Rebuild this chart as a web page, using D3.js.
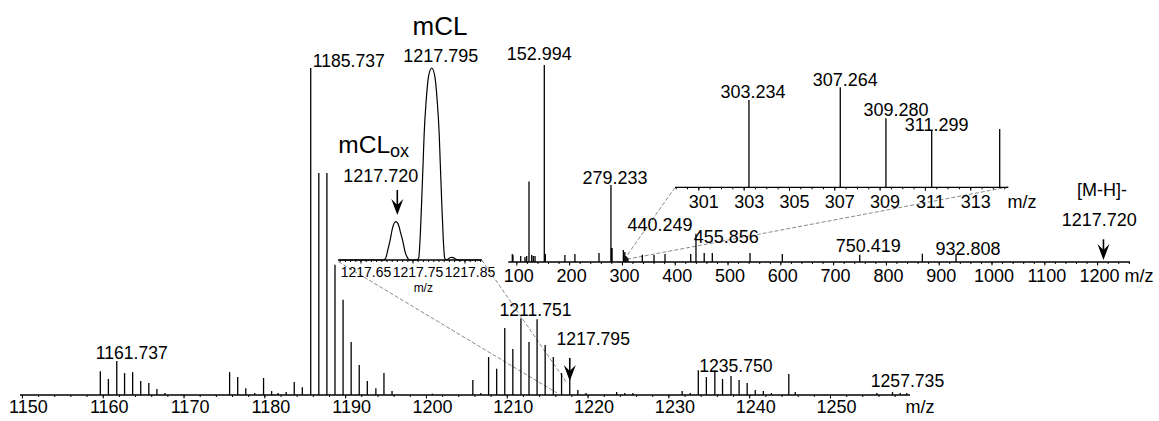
<!DOCTYPE html>
<html>
<head>
<meta charset="utf-8">
<script src="https://cdn.jsdelivr.net/npm/d3@7"></script>
<style>
  body { margin: 0; background: #fff; }
  svg text { font-family: "Liberation Sans", Arial, sans-serif; fill: #000; }
</style>
</head>
<body>
<svg id="chart" width="1159" height="421"></svg>
<script>
// ---- main MS spectrum (m/z, relative intensity %) ----
const mainTicks = d3.range(1150, 1251, 10);
const mainPeaks = [
  [1159.70, 7.3], [1160.70, 4.9], [1161.737, 10.4], [1162.70, 6.7], [1163.70, 7.0],
  [1164.70, 4.3], [1165.70, 3.7], [1166.70, 1.8], [1167.70, 0.6],
  [1175.70, 7.0], [1176.70, 5.5], [1177.70, 2.1], [1178.80, 0.6], [1179.90, 5.2],
  [1180.90, 1.2], [1181.70, 0.6], [1182.70, 0.9], [1183.70, 4.0], [1184.70, 2.4],
  [1185.737, 100], [1186.74, 67.9], [1187.74, 67.9], [1188.74, 39.8], [1189.74, 29.1],
  [1190.74, 16.2], [1191.74, 9.2], [1192.74, 4.3], [1193.80, 2.1], [1194.80, 6.7],
  [1195.80, 1.2], [1200.80, 0.4],
  [1205.80, 4.6], [1206.80, 0.6], [1207.75, 11.6], [1208.75, 8.0], [1209.75, 20.5],
  [1210.75, 14.1], [1211.751, 23.5], [1212.75, 16.2], [1213.75, 23.2], [1214.75, 15.3],
  [1215.76, 11.6], [1216.78, 6.7], [1217.795, 5.2], [1218.80, 1.5], [1219.80, 0.6],
  [1223.60, 0.9], [1224.60, 0.6], [1225.60, 0.6], [1231.70, 1.2], [1232.70, 0.6],
  [1233.70, 7.6], [1234.70, 5.5], [1235.750, 7.6], [1236.70, 4.9], [1237.75, 5.8],
  [1238.75, 4.6], [1239.75, 3.7], [1240.75, 1.5], [1241.75, 1.2], [1242.75, 0.6],
  [1244.90, 6.4], [1245.70, 0.9], [1255.80, 0.6], [1257.735, 0.9], [1258.70, 0.6], [1259.50, 0.6]
];
const mainLabels = ['1161.737', '1185.737', '1211.751', '1217.795', '1235.750', '1257.735'];

// ---- inset: high resolution profile around 1217.7 ----
const profileTicks = [1217.65, 1217.75, 1217.85];
const profilePoints = [
  [1217.6073, 0], [1217.6946, 0], [1217.6985, 1], [1217.7023, 5], [1217.7067, 10],
  [1217.7119, 17], [1217.7177, 20], [1217.7235, 18], [1217.7273, 14], [1217.7312, 10],
  [1217.7360, 4], [1217.7408, 1], [1217.7437, 0],
  [1217.7581, 0], [1217.7619, 1], [1217.7648, 12], [1217.7677, 31], [1217.7706, 52],
  [1217.7725, 66], [1217.7763, 83], [1217.7811, 96], [1217.7869, 100], [1217.7927, 96],
  [1217.7975, 83], [1217.8013, 66], [1217.8032, 52], [1217.8061, 31], [1217.8090, 12],
  [1217.8119, 1], [1217.8157, 0],
  [1217.8190, 0.6], [1217.8230, 1.3], [1217.8260, 1.4], [1217.8300, 1.0], [1217.8340, 0.4],
  [1217.8381, 0], [1217.8831, 0]
];

// ---- inset: MS/MS of 1217.720 ----
const msmsTicks = d3.range(100, 1201, 100);
const msmsPeaks = [
  [92.4, 4.1], [93.6, 3.6], [108.3, 3.0], [116.4, 2.5], [119.6, 3.0], [124.0, 40.8],
  [129.1, 3.6], [132.1, 3.0], [135.4, 3.0], [152.994, 100], [155.0, 4.1], [192.0, 3.6],
  [211.0, 4.1], [256.6, 4.6], [279.233, 39.1], [280.24, 7.1], [281.25, 7.1],
  [302.7, 6.1], [303.7, 4.0], [305.5, 5.1], [307.3, 3.0], [309.3, 2.5], [311.3, 2.0],
  [338.6, 3.7], [360.8, 3.6], [381.6, 4.1], [430.3, 4.1], [440.249, 14.4], [455.856, 4.6],
  [471.2, 4.6], [542.6, 4.6], [603.8, 4.1], [750.419, 3.7], [869.0, 4.2], [932.808, 4.1]
];
const msmsLabels = ['152.994', '279.233', '440.249', '455.856', '750.419', '932.808'];

// ---- inset: MS/MS zoom 300-314 ----
const zoomTicks = d3.range(301, 314, 2);
const zoomPeaks = [[303.234, 87.3], [307.264, 100], [309.280, 69], [311.299, 57.3], [314.30, 58.3]];
const zoomLabels = ['303.234', '307.264', '309.280', '311.299'];

const svg = d3.select('#chart');
svg.append('rect').attr('width', 1159).attr('height', 421).attr('fill', '#fff');

const xMain = d3.scaleLinear().domain([1149.76, 1259.9]).range([20, 910]);
const yMain = d3.scaleLinear().domain([0, 100]).range([395, 68]);
const xProf = d3.scaleLinear().domain([1217.6073, 1217.8831]).range([338.3, 481.7]);
const yProf = d3.scaleLinear().domain([0, 100]).range([260, 68]);
const xMsms = d3.scaleLinear().domain([84.8, 1262.3]).range([508.3, 1130]);
const yMsms = d3.scaleLinear().domain([0, 100]).range([262, 65]);
const xZoom = d3.scaleLinear().domain([299.97, 314.68]).range([675, 1008.3]);
const yZoom = d3.scaleLinear().domain([0, 100]).range([187.3, 87.3]);

function text(str, x, y, size, anchor) {
  return svg.append('text').attr('x', x).attr('y', y)
    .attr('text-anchor', anchor || 'middle')
    .style('font-size', size + 'px').text(str);
}

function axis(x, y0, ticks, minor, fmt, size, labelY, labelDx) {
  const g = svg.append('g').attr('transform', `translate(0,${y0})`);
  g.append('g')
    .call(d3.axisBottom(x).tickValues(minor).tickSize(2).tickSizeOuter(0).tickFormat(''))
    .call(a => a.select('.domain').remove());
  const ax = g.append('g')
    .call(d3.axisBottom(x).tickValues(ticks).tickSize(3.5).tickSizeOuter(0).tickFormat(fmt));
  ax.select('.domain').remove();
  ax.selectAll('text').attr('y', labelY).attr('dy', 0).attr('dx', labelDx)
    .style('font-size', size + 'px');
  g.append('line').attr('x1', x.range()[0]).attr('x2', x.range()[1])
    .attr('stroke', '#000').attr('stroke-width', 1.3);
}

function sticks(x, y, peaks) {
  svg.append('g').selectAll('line').data(peaks).enter().append('line')
    .attr('x1', d => x(d[0])).attr('x2', d => x(d[0]))
    .attr('y1', y(0)).attr('y2', d => y(d[1]))
    .attr('stroke', '#000').attr('stroke-width', 1.3);
}

function arrow(x, yTop, yTip) {
  svg.append('line').attr('x1', x).attr('x2', x).attr('y1', yTop).attr('y2', yTip - 8)
    .attr('stroke', '#000').attr('stroke-width', 1.6);
  svg.append('path')
    .attr('d', `M${x},${yTip}L${x - 6},${yTip - 16}L${x},${yTip - 10}L${x + 6},${yTip - 16}Z`)
    .attr('fill', '#000');
}

function dashed(x1, y1, x2, y2) {
  svg.append('line').attr('x1', x1).attr('y1', y1).attr('x2', x2).attr('y2', y2)
    .attr('stroke', '#8a8a8a').attr('stroke-width', 1).attr('stroke-dasharray', '4,2');
}

function peakLabels(labels, x, y, peaks, offsets, size) {
  labels.forEach(l => {
    const mz = +l;
    const p = peaks.find(d => Math.abs(d[0] - mz) < 0.01);
    const o = offsets[l];
    text(l, x(mz) + o[0], y(p[1]) - o[1], size, o[2]);
  });
}

// connectors (drawn first, under everything)
dashed(xProf.range()[0], 261.7, xMain(1216.21), 393);
dashed(xProf.range()[1], 260, xMain(1217.45), 383);
dashed(xZoom.range()[0], 187.5, xMsms(305.5), 258.5);
dashed(xZoom.range()[1], 187, xMsms(308.5), 259.3);

// main spectrum
axis(xMain, yMain(0), mainTicks, d3.range(1150, 1260, 2), d3.format('d'), 18, 18, 6);
sticks(xMain, yMain, mainPeaks);
text('m/z', 920, 413, 18);
peakLabels(mainLabels, xMain, yMain, mainPeaks, {
  '1161.737': [15, 2], '1185.737': [2, 1, 'start'], '1211.751': [14.6, 2],
  '1217.795': [23.5, 33], '1235.750': [21, -1.5], '1257.735': [15, 5]
}, 17.6);
arrow(xMain(1217.795), 358, yMain(5.2) + 3);

// profile inset
axis(xProf, yProf(0), profileTicks, d3.range(1217.61, 1217.885, 0.01), d3.format('.2f'), 14, 16.5, 5);
svg.append('path').datum(profilePoints)
  .attr('d', d3.line().x(d => xProf(d[0])).y(d => yProf(d[1])).curve(d3.curveMonotoneX))
  .attr('fill', 'none').attr('stroke', '#000').attr('stroke-width', 1.2);
text('m/z', 423.3, 292, 12);
text('mCL', 440, 35, 26);
text('1217.795', xProf(1217.7869) + 9, 62, 18);
const ox = svg.append('text').attr('x', 338.3).attr('y', 153).style('font-size', '24.5px');
ox.append('tspan').text('mCL');
ox.append('tspan').attr('dy', 4).style('font-size', '18px').text('ox');
text('1217.720', 380.8, 181.7, 18);
arrow(xProf(1217.7177) + 1.6, 190, yProf(20) - 6.5);

// MS/MS inset
axis(xMsms, yMsms(0), msmsTicks, d3.range(100, 1261, 20), d3.format('d'), 18, 20, 2);
sticks(xMsms, yMsms, msmsPeaks);
text('m/z', 1139, 282, 18);
peakLabels(msmsLabels, xMsms, yMsms, msmsPeaks, {
  '152.994': [-5, 5.5], '279.233': [4, 1], '440.249': [-36, 2.6],
  '455.856': [22, 10.4], '750.419': [8.6, 3.2], '932.808': [12, -0.6]
}, 18);
arrow(xMsms(1217.72) - 3, 239.3, 260);
text('1217.720', 1099.2, 226, 18);
text('[M-H]-', 1102, 196, 18);

// zoom inset 300-314
axis(xZoom, yZoom(0), zoomTicks, d3.range(300, 314.7, 0.5), d3.format('d'), 18, 20.7, 5);
sticks(xZoom, yZoom, zoomPeaks);
text('m/z', 1022, 208, 18);
peakLabels(zoomLabels, xZoom, yZoom, zoomPeaks, {
  '303.234': [4, 2.5], '307.264': [5, 1.3], '309.280': [10, 2.3], '311.299': [5, -1]
}, 18);
</script>
</body>
</html>
